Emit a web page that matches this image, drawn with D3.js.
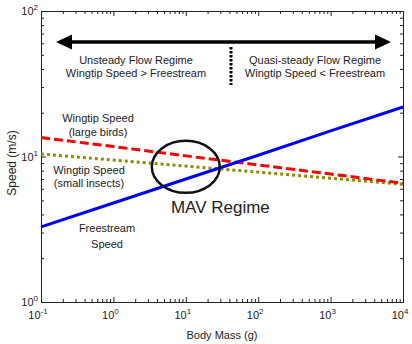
<!DOCTYPE html>
<html>
<head>
<meta charset="utf-8">
<script src="https://cdn.jsdelivr.net/npm/d3@7"></script>
<style>
body{margin:0;background:#fff}
text{font-family:"Liberation Sans",Arial,sans-serif;fill:#222}
.axis path,.axis line{stroke:#222;stroke-width:1}
</style>
</head>
<body>
<div class="chart"></div>
<script>
// body mass (g) and speeds (m/s)
let mass=[0.1,1,10,100,1000,10000]
let freestream=[3.28,4.79,7.0,10.2,15.0,21.9]
let wingtipBirds=[13.5,11.7,10.1,8.75,7.57,6.55]
let wingtipInsects=[10.4,9.46,8.6,7.81,7.1,6.45]
let xTicks=[0.1,1,10,100,1000,10000]
let xTickLabels=['-1','0','1','2','3','4']
let yTicks=[1,10,100]
let yTickLabels=['0','1','2']

let w=412,h=344
let pLeft=41,pRight=403,pTop=11,pBottom=302
let x=d3.scaleLog().domain([0.1,10000]).range([pLeft,pRight])
let y=d3.scaleLog().domain([1,100]).range([pBottom,pTop])

let svg=d3.select('.chart').append('svg').attr('width',w).attr('height',h)

function isMajor(v){return Math.abs(Math.log10(v)-Math.round(Math.log10(v)))<1e-9}

function drawAxis(axis,tr,cls,sign){
  let g=svg.append('g').attr('class','axis').attr('transform',tr).call(axis)
  g.selectAll('.tick line').each(function(d){
    let ln=d3.select(this)
    let len=isMajor(d)?5:3
    if(cls=='x') ln.attr('y2',sign*len)
    else ln.attr('x2',sign*len)
  })
  g.select('.domain').attr('stroke','#222')
}
drawAxis(d3.axisBottom(x).tickValues(x.ticks()).tickSizeOuter(0).tickFormat(''),'translate(0,'+pBottom+')','x',-1)
drawAxis(d3.axisTop(x).tickValues(x.ticks()).tickSizeOuter(0).tickFormat(''),'translate(0,'+pTop+')','x',1)
drawAxis(d3.axisLeft(y).tickValues(y.ticks()).tickSizeOuter(0).tickFormat(''),'translate('+pLeft+',0)','y',1)
drawAxis(d3.axisRight(y).tickValues(y.ticks()).tickSizeOuter(0).tickFormat(''),'translate('+pRight+',0)','y',-1)

// tick labels with superscripts
xTicks.forEach((v,i)=>{
  let t=svg.append('text').attr('x',x(v)-3).attr('y',pBottom+17).attr('text-anchor','middle').attr('font-size',11)
  t.append('tspan').text('10')
  t.append('tspan').attr('dy',-5).attr('font-size',8).text(xTickLabels[i])
})
yTicks.forEach((v,i)=>{
  let t=svg.append('text').attr('x',pLeft-3).attr('y',y(v)+4).attr('text-anchor','end').attr('font-size',11)
  t.append('tspan').text('10')
  t.append('tspan').attr('dy',-5).attr('font-size',8).text(yTickLabels[i])
})

svg.append('text').text('Body Mass (g)').attr('x',(pLeft+pRight)/2).attr('y',339).attr('text-anchor','middle').attr('font-size',11)
svg.append('text').text('Speed (m/s)').attr('transform','translate(16,163) rotate(-90)').attr('text-anchor','middle').attr('font-size',12)

let line=(vals)=>d3.line().x((d,i)=>x(mass[i])).y(d=>y(d))(vals)

svg.append('path').attr('d',line(wingtipInsects)).attr('fill','none').attr('stroke','#8c8c00').attr('stroke-width',3).attr('stroke-dasharray','3,3')
svg.append('path').attr('d',line(wingtipBirds)).attr('fill','none').attr('stroke','#ff0000').attr('stroke-width',3).attr('stroke-dasharray','9,4')
svg.append('path').attr('d',line(freestream)).attr('fill','none').attr('stroke','#0000ff').attr('stroke-width',3)

// MAV regime ellipse
svg.append('ellipse').attr('cx',x(10)).attr('cy',y(8.5)).attr('rx',34).attr('ry',26).attr('fill','none').attr('stroke','#111').attr('stroke-width',2.5)
svg.append('text').text('MAV Regime').attr('x',x(30)).attr('y',213).attr('text-anchor','middle').attr('font-size',17)

// double arrow and divider
let ay=42
svg.append('line').attr('x1',66).attr('x2',380).attr('y1',ay).attr('y2',ay).attr('stroke','#000').attr('stroke-width',3.5)
svg.append('path').attr('d','M56,'+ay+' L72,'+(ay-7.5)+' L72,'+(ay+7.5)+' Z').attr('fill','#000')
svg.append('path').attr('d','M391,'+ay+' L375,'+(ay-7.5)+' L375,'+(ay+7.5)+' Z').attr('fill','#000')
svg.append('line').attr('x1',231).attr('x2',231).attr('y1',47).attr('y2',85).attr('stroke','#000').attr('stroke-width',3).attr('stroke-dasharray','2.5,1.5')

let labels=[
  ['Unsteady Flow Regime',136,64],
  ['Wingtip Speed > Freestream',136,77],
  ['Quasi-steady Flow Regime',315,64],
  ['Wingtip Speed < Freestream',315,77],
  ['Wingtip Speed',98,122],
  ['(large birds)',98,136],
  ['Wingtip Speed',89,174],
  ['(small insects)',89,187],
  ['Freestream',107,232],
  ['Speed',107,248]
]
labels.forEach(l=>{
  svg.append('text').text(l[0]).attr('x',l[1]).attr('y',l[2]).attr('text-anchor','middle').attr('font-size',11)
})
</script>
</body>
</html>
